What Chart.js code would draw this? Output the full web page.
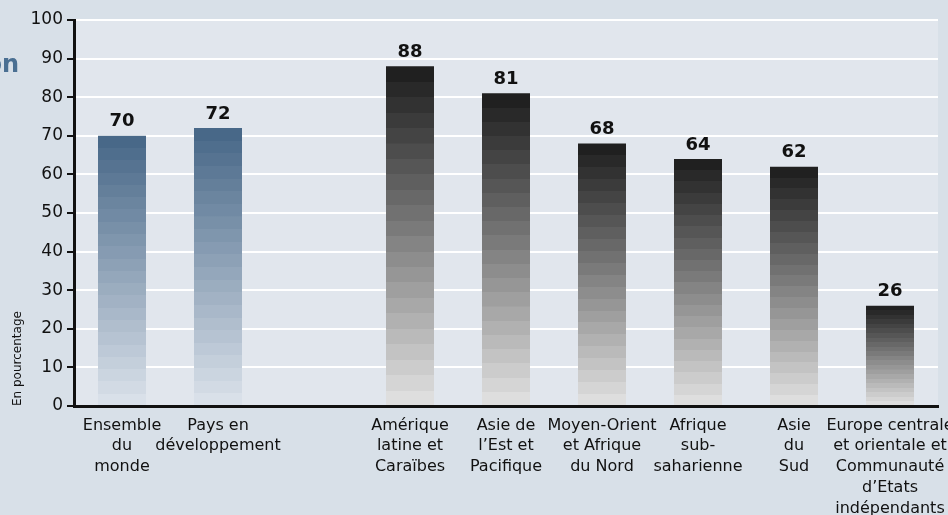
<!DOCTYPE html>
<html>
<head>
<meta charset="utf-8">
<script src="https://cdn.jsdelivr.net/npm/chart.js@4"></script>
<style>
  html, body { margin: 0; padding: 0; background: #d8e0e8; }
  #wrap { width: 948px; height: 515px; position: relative; }
</style>
</head>
<body>
<div id="wrap"><canvas id="c" width="948" height="515"></canvas></div>
<script>
// ---- data ----
const categories = [
  ["Ensemble", "du", "monde"],
  ["Pays en", "développement"],
  "",
  ["Amérique", "latine et", "Caraïbes"],
  ["Asie de", "l’Est et", "Pacifique"],
  ["Moyen-Orient", "et Afrique", "du Nord"],
  ["Afrique", "sub-", "saharienne"],
  ["Asie", "du", "Sud"],
  ["Europe centrale", "et orientale et", "Communauté", "d’Etats", "indépendants"]
];
const values = [70, 72, null, 88, 81, 68, 64, 62, 26];
const yTicks = [0, 10, 20, 30, 40, 50, 60, 70, 80, 90, 100];
const yTitle = "En pourcentage";
const clippedTitle = "on";

// ---- styles ----
const FONT = "'DejaVu Sans', sans-serif";
const BANDS = 22;
const blueTop = [72, 104, 136], blueBottom = [217, 224, 233];
const grayTop = [32, 32, 32], grayBottom = [222, 222, 222];

function mix(a, b, t) {
  return 'rgb(' + a.map((v, i) => Math.round(v + (b[i] - v) * t)).join(',') + ')';
}

function barFill(ctx) {
  const chart = ctx.chart;
  if (!chart.chartArea || ctx.raw == null) return '#888';
  const y = chart.scales.y;
  const top = y.getPixelForValue(ctx.raw);
  const bottom = y.getPixelForValue(0);
  const g = chart.ctx.createLinearGradient(0, top, 0, bottom);
  const isWorld = ctx.dataIndex < 2;
  const cTop = isWorld ? blueTop : grayTop;
  const cBot = isWorld ? blueBottom : grayBottom;
  for (let i = 0; i < BANDS; i++) {
    const col = mix(cTop, cBot, i / (BANDS - 1));
    g.addColorStop(i / BANDS, col);
    g.addColorStop(Math.min(1, (i + 1) / BANDS - 0.0001), col);
  }
  return g;
}

const bgPlugin = {
  id: 'bg',
  beforeDraw(chart) {
    const { ctx, chartArea: a } = chart;
    ctx.save();
    ctx.fillStyle = '#d8e0e8';
    ctx.fillRect(0, 0, chart.width, chart.height);
    ctx.fillStyle = '#e1e6ed';
    ctx.fillRect(a.left, a.top, a.right - a.left, a.bottom - a.top);
    ctx.fillStyle = '#4a6f92';
    ctx.font = "bold 24px " + FONT;
    ctx.textAlign = 'right';
    ctx.textBaseline = 'alphabetic';
    ctx.fillText(clippedTitle, 19, 72);
    ctx.restore();
  }
};

const valueLabels = {
  id: 'valueLabels',
  afterDatasetsDraw(chart) {
    const { ctx } = chart;
    const meta = chart.getDatasetMeta(0);
    ctx.save();
    ctx.fillStyle = '#111';
    ctx.font = "bold 18px " + FONT;
    ctx.textAlign = 'center';
    ctx.textBaseline = 'bottom';
    meta.data.forEach((el, i) => {
      const v = values[i];
      if (v == null) return;
      ctx.fillText(String(v), el.x, el.y - 5);
    });
    ctx.restore();
  }
};

new Chart(document.getElementById('c'), {
  type: 'bar',
  data: {
    labels: categories,
    datasets: [{
      data: values,
      backgroundColor: barFill,
      borderWidth: 0,
      categoryPercentage: 1,
      barPercentage: 0.5
    }]
  },
  options: {
    responsive: false,
    animation: false,
    devicePixelRatio: 1,
    layout: { padding: { top: 20, right: 10, left: 0, bottom: 0 } },
    plugins: { legend: { display: false }, tooltip: { enabled: false } },
    scales: {
      x: {
        offset: true,
        grid: { display: false, drawTicks: false },
        border: { display: true, color: '#111', width: 3 },
        ticks: {
          autoSkip: false, maxRotation: 0, minRotation: 0,
          color: '#111', padding: 9,
          font: { family: FONT, size: 16, lineHeight: 1.3 }
        },
        afterFit(scale) {
          scale.height = 109;
          scale.paddingLeft = 0;
          scale.paddingRight = 0;
        }
      },
      y: {
        min: yTicks[0], max: yTicks[yTicks.length - 1],
        afterBuildTicks(scale) { scale.ticks = yTicks.map(v => ({ value: v })); },
        grid: { color: '#ffffff', lineWidth: 2, tickColor: '#111', tickLength: 7, tickWidth: 2 },
        border: { display: true, color: '#111', width: 3 },
        ticks: { color: '#111', padding: 4, font: { family: FONT, size: 17 } },
        title: {
          display: true, text: yTitle, align: 'start', color: '#111',
          font: { family: FONT, size: 12 }, padding: { top: 11, bottom: 0 }
        },
        afterFit(scale) {
          scale.width = 74;
          scale.paddingTop = 0;
          scale.paddingBottom = 0;
        }
      }
    }
  },
  plugins: [bgPlugin, valueLabels]
});
</script>
</body>
</html>
